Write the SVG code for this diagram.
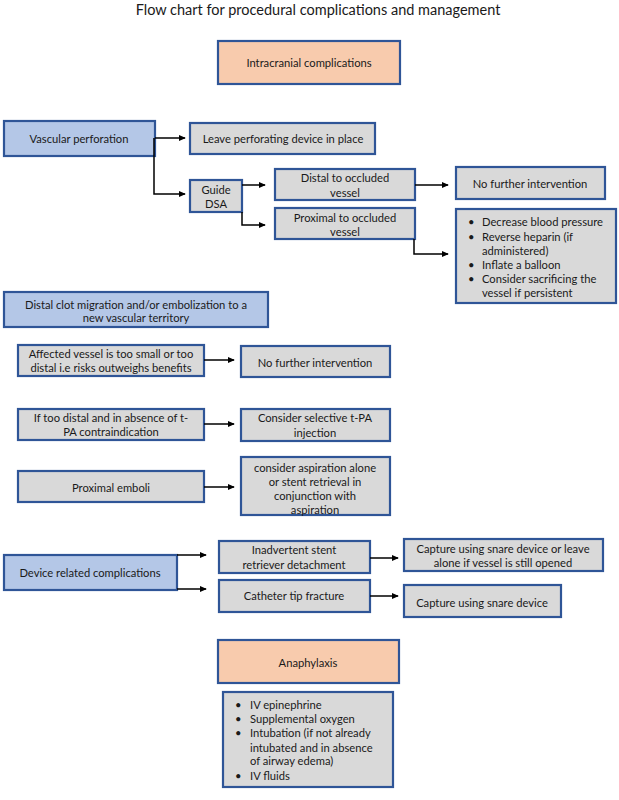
<svg xmlns="http://www.w3.org/2000/svg" width="619" height="800" viewBox="0 0 619 800">
<defs>
<marker id="ah" viewBox="0 0 8 8" refX="7" refY="4" markerWidth="7" markerHeight="7" markerUnits="userSpaceOnUse" orient="auto">
<path d="M0,0.5 L8,4 L0,7.5 Z" fill="#000"/>
</marker>
<style>
.box{stroke:#2f5597;stroke-width:2.2}
.or{fill:#f8cbad}
.bl{fill:#b4c7e7}
.gr{fill:#d9d9d9}
text{font-family:Lato,"Liberation Sans",sans-serif;font-size:11.2px;fill:#1a1a1a;dominant-baseline:central}
.c{text-anchor:middle}
.t{font-size:14.5px}
.cn{fill:none;stroke:#000;stroke-width:1.5;marker-end:url(#ah)}
</style>
</defs>
<rect width="619" height="800" fill="#fff"/>
<text class="c t" x="318" y="9">Flow chart for procedural complications and management</text>

<g id="intracranial"><rect class="box or" x="218" y="41" width="182" height="43"/><text class="c" x="309" y="62">Intracranial complications</text></g>

<g id="vascular"><rect class="box bl" x="4" y="121" width="151" height="35"/><text class="c" x="79" y="138">Vascular perforation</text></g>
<g id="leave"><rect class="box gr" x="190" y="123" width="185" height="31"/><text class="c" x="283" y="138">Leave perforating device in place</text></g>
<g id="guide"><rect class="box gr" x="190" y="180" width="52" height="32"/><text class="c" x="216" y="189">Guide</text><text class="c" x="216" y="203">DSA</text></g>
<g id="distal"><rect class="box gr" x="275" y="169" width="140" height="31"/><text class="c" x="345" y="177">Distal to occluded</text><text class="c" x="345" y="192">vessel</text></g>
<g id="proximal"><rect class="box gr" x="275" y="208" width="140" height="31"/><text class="c" x="345" y="217">Proximal to occluded</text><text class="c" x="345" y="231">vessel</text></g>
<g id="nofurther1"><rect class="box gr" x="456" y="167" width="149" height="32"/><text class="c" x="530" y="183">No further intervention</text></g>
<g id="perfmgmt"><rect class="box gr" x="456" y="209" width="160" height="94"/>
<text x="468" y="221">•</text><text x="482" y="221">Decrease blood pressure</text>
<text x="468" y="236">•</text><text x="482" y="236">Reverse heparin (if</text>
<text x="482" y="250">administered)</text>
<text x="468" y="264">•</text><text x="482" y="264">Inflate a balloon</text>
<text x="468" y="278">•</text><text x="482" y="278">Consider sacrificing the</text>
<text x="482" y="292">vessel if persistent</text></g>

<g id="distalclot"><rect class="box bl" x="4" y="292" width="264" height="35"/><text class="c" x="136" y="304">Distal clot migration and/or embolization to a</text><text class="c" x="136" y="317">new vascular territory</text></g>
<g id="affected"><rect class="box gr" x="18" y="345" width="186" height="31"/><text class="c" x="111" y="353">Affected vessel is too small or too</text><text class="c" x="111" y="367">distal i.e risks outweighs benefits</text></g>
<g id="nofurther2"><rect class="box gr" x="241" y="346" width="149" height="31"/><text class="c" x="315" y="362">No further intervention</text></g>
<g id="toodistal"><rect class="box gr" x="18" y="409" width="186" height="31"/><text class="c" x="111" y="417">If too distal and in absence of t-</text><text class="c" x="111" y="431">PA contraindication</text></g>
<g id="tpa"><rect class="box gr" x="241" y="409" width="149" height="32"/><text class="c" x="315" y="417">Consider selective t-PA</text><text class="c" x="315" y="432">injection</text></g>
<g id="proxemboli"><rect class="box gr" x="18" y="471" width="186" height="31"/><text class="c" x="111" y="487">Proximal emboli</text></g>
<g id="aspiration"><rect class="box gr" x="241" y="457" width="149" height="58"/><text class="c" x="315" y="467">consider aspiration alone</text><text class="c" x="315" y="481">or stent retrieval in</text><text class="c" x="315" y="495">conjunction with</text><text class="c" x="315" y="509">aspiration</text></g>

<g id="device"><rect class="box bl" x="4" y="555" width="173" height="35"/><text class="c" x="90" y="572">Device related complications</text></g>
<g id="inadvertent"><rect class="box gr" x="219" y="541" width="151" height="32"/><text class="c" x="294" y="549">Inadvertent stent</text><text class="c" x="294" y="564">retriever detachment</text></g>
<g id="capture1"><rect class="box gr" x="404" y="539" width="199" height="32"/><text class="c" x="503" y="548">Capture using snare device or leave</text><text class="c" x="503" y="562">alone if vessel is still opened</text></g>
<g id="catheter"><rect class="box gr" x="219" y="580" width="151" height="32"/><text class="c" x="294" y="595">Catheter tip fracture</text></g>
<g id="capture2"><rect class="box gr" x="404" y="585" width="157" height="32"/><text class="c" x="482" y="602">Capture using snare device</text></g>

<g id="anaphylaxis"><rect class="box or" x="218" y="640" width="181" height="43"/><text class="c" x="308" y="662">Anaphylaxis</text></g>
<g id="anamgmt"><rect class="box gr" x="223" y="692" width="170" height="95"/>
<text x="235" y="704">•</text><text x="250" y="704">IV epinephrine</text>
<text x="235" y="718">•</text><text x="250" y="718">Supplemental oxygen</text>
<text x="235" y="732">•</text><text x="250" y="732">Intubation (if not already</text>
<text x="250" y="747">intubated and in absence</text>
<text x="250" y="760">of airway edema)</text>
<text x="235" y="775">•</text><text x="250" y="775">IV fluids</text></g>

<g id="connectors">
<path class="cn" d="M155,138 H185"/>
<path class="cn" d="M154,138 V194 H185"/>
<path class="cn" d="M242,185 H265"/>
<path class="cn" d="M242,212 V225 H265"/>
<path class="cn" d="M415,185 H448"/>
<path class="cn" d="M414,239 V254 H448"/>
<path class="cn" d="M204,360 H234"/>
<path class="cn" d="M204,424 H234"/>
<path class="cn" d="M204,487 H234"/>
<path class="cn" d="M177,555 H206"/>
<path class="cn" d="M177,589 H206"/>
<path class="cn" d="M370,558 H398"/>
<path class="cn" d="M370,596 H398"/>
</g>
</svg>
